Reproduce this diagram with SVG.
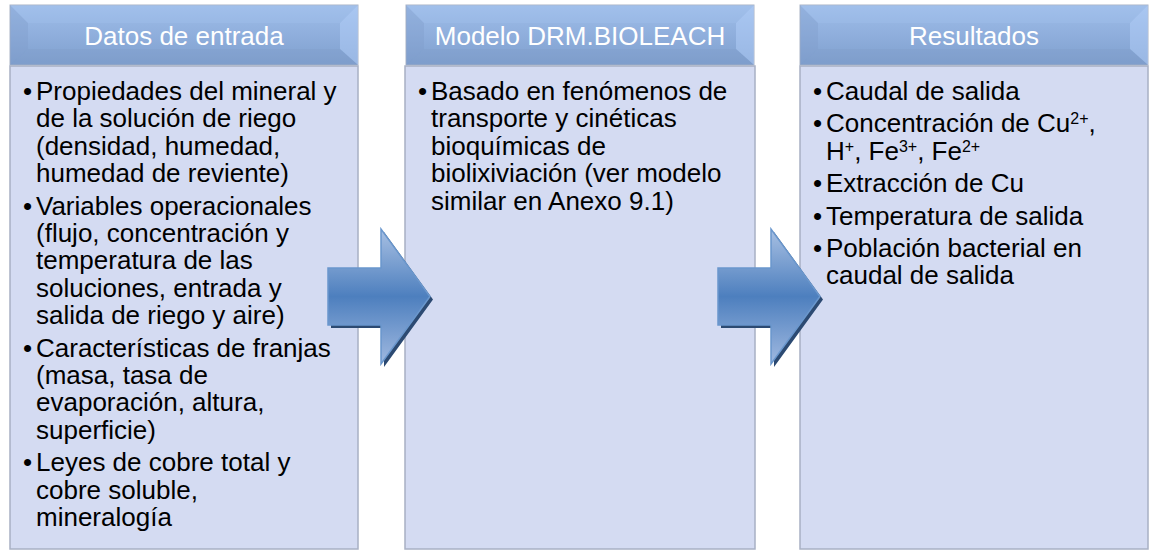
<svg xmlns="http://www.w3.org/2000/svg" xmlns:xlink="http://www.w3.org/1999/xlink" width="1150" height="552" viewBox="0 0 1150 552">
<defs>
<style>
.hdrtxt{font-family:"Liberation Sans",Arial,sans-serif;font-size:26px;fill:#ffffff;text-anchor:middle}
.body{font-family:"Liberation Sans",Arial,sans-serif;font-size:26px;fill:#000000}
.sup{font-size:16px}
.panel{fill:#d4dbf2;stroke:#a8b0c4;stroke-width:1.5}
</style>
<linearGradient id="hg" x1="0" y1="0" x2="0" y2="1">
<stop offset="0" stop-color="#9fbeea"/>
<stop offset="1" stop-color="#7f9fce"/>
</linearGradient>
<linearGradient id="ag" x1="0" y1="0" x2="0" y2="1">
<stop offset="0" stop-color="#a8c0e3"/>
<stop offset="0.5" stop-color="#4d7fbe"/>
<stop offset="1" stop-color="#a0b9e0"/>
</linearGradient>
<g id="hdr">
<rect x="0" y="0" width="348" height="60" fill="url(#hg)" stroke="#a9b3c6" stroke-width="1"/>
<polygon points="0,0 18,18 18,44 0,60" fill="#7d9bc8" opacity="0.35"/>
<polygon points="348,0 330,18 330,44 348,60" fill="#b3d0fa" opacity="0.5"/>
<polygon points="0,0 348,0 330,18 18,18" fill="#a6c4f0" opacity="0.3"/>
<polygon points="0,60 348,60 330,44 18,44" fill="#7a97c2" opacity="0.25"/>
</g>
<path id="arr" d="M0,0 H53 V-39 L102,28.5 L53,96 V57 H0 Z"/>
</defs>
<rect width="1150" height="552" fill="#ffffff"/>

<g id="node-datos">
<rect class="panel" x="10" y="66" width="348" height="483"/>
<use xlink:href="#hdr" x="10" y="5"/>
<text class="hdrtxt" x="184" y="45">Datos de entrada</text>
<g class="body">
<text x="23" y="100">•</text><text x="36" y="100">Propiedades del mineral y</text>
<text x="36" y="127.4">de la solución de riego</text>
<text x="36" y="154.8">(densidad, humedad,</text>
<text x="36" y="182.2">humedad de reviente)</text>
<text x="23" y="214.6">•</text><text x="36" y="214.6">Variables operacionales</text>
<text x="36" y="242">(flujo, concentración y</text>
<text x="36" y="269.4">temperatura de las</text>
<text x="36" y="296.8">soluciones, entrada y</text>
<text x="36" y="324.2">salida de riego y aire)</text>
<text x="23" y="356.6">•</text><text x="36" y="356.6">Características de franjas</text>
<text x="36" y="384">(masa, tasa de</text>
<text x="36" y="411.4">evaporación, altura,</text>
<text x="36" y="438.8">superficie)</text>
<text x="23" y="471.2">•</text><text x="36" y="471.2">Leyes de cobre total y</text>
<text x="36" y="498.6">cobre soluble,</text>
<text x="36" y="526">mineralogía</text>
</g>
</g>

<g id="node-modelo">
<rect class="panel" x="405" y="66" width="350" height="483"/>
<use xlink:href="#hdr" x="406" y="5"/>
<text class="hdrtxt" x="580" y="45">Modelo DRM.BIOLEACH</text>
<g class="body">
<text x="418" y="100">•</text><text x="431" y="100">Basado en fenómenos de</text>
<text x="431" y="127.4">transporte y cinéticas</text>
<text x="431" y="154.8">bioquímicas de</text>
<text x="431" y="182.2">biolixiviación (ver modelo</text>
<text x="431" y="209.6">similar en Anexo 9.1)</text>
</g>
</g>

<g id="node-resultados">
<rect class="panel" x="800" y="66" width="348" height="483"/>
<use xlink:href="#hdr" x="800" y="5"/>
<text class="hdrtxt" x="974" y="45">Resultados</text>
<g class="body">
<text x="813" y="100">•</text><text x="826" y="100">Caudal de salida</text>
<text x="813" y="132.4">•</text><text x="826" y="132.4">Concentración de Cu<tspan class="sup" dy="-8">2+</tspan><tspan dy="8">,</tspan></text>
<text x="826" y="159.8">H<tspan class="sup" dy="-8">+</tspan><tspan dy="8">, Fe</tspan><tspan class="sup" dy="-8">3+</tspan><tspan dy="8">, Fe</tspan><tspan class="sup" dy="-8">2+</tspan></text>
<text x="813" y="192.2">•</text><text x="826" y="192.2">Extracción de Cu</text>
<text x="813" y="224.6">•</text><text x="826" y="224.6">Temperatura de salida</text>
<text x="813" y="257">•</text><text x="826" y="257">Población bacterial en</text>
<text x="826" y="284.4">caudal de salida</text>
</g>
</g>

<g id="connectors">
<g id="arrow-1">
<use xlink:href="#arr" x="331" y="271" fill="#2c4a72"/>
<use xlink:href="#arr" x="328" y="268" fill="url(#ag)" stroke="#6a97cd" stroke-width="1.5"/>
</g>
<g id="arrow-2">
<use xlink:href="#arr" x="721" y="271" fill="#2c4a72"/>
<use xlink:href="#arr" x="718" y="268" fill="url(#ag)" stroke="#6a97cd" stroke-width="1.5"/>
</g>
</g>
</svg>
